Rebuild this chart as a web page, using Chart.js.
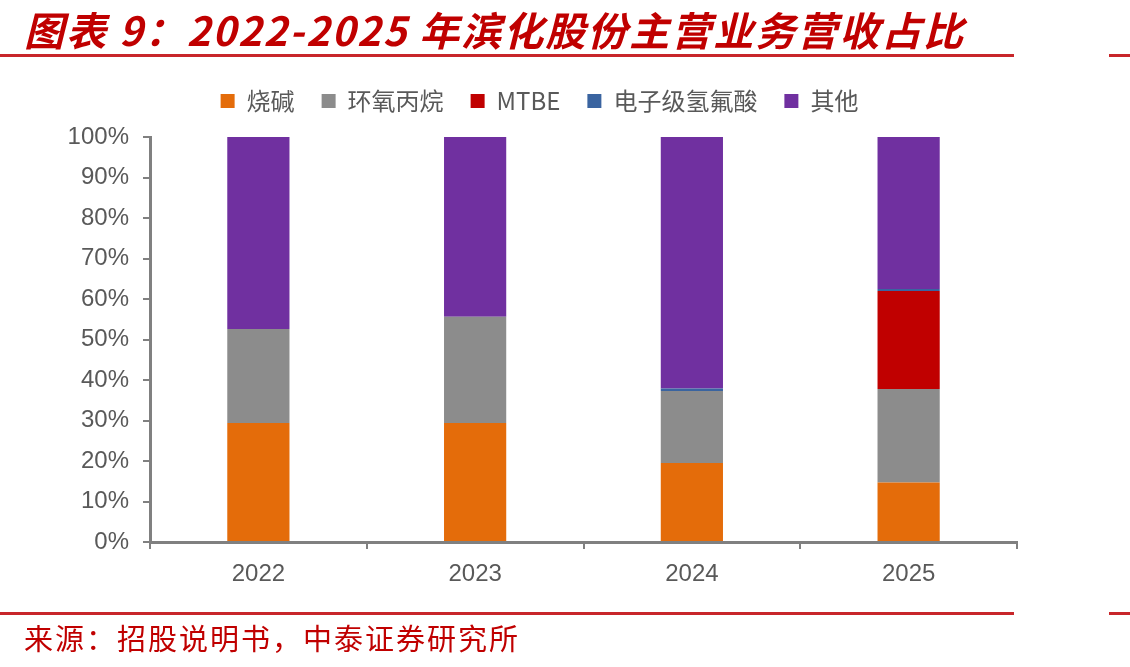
<!DOCTYPE html>
<html>
<head>
<meta charset="utf-8">
<script src="https://cdn.jsdelivr.net/npm/chart.js@4"></script>
<style>
  body { margin: 0; background: #fff; }
  #wrap { position: relative; width: 1130px; height: 667px; overflow: hidden; }
  #title { position: absolute; left: 24px; top: 0px; font-family: "Noto Sans CJK SC"; font-weight: bold; font-style: italic;
           font-size: 40px; color: #c00000; white-space: nowrap; letter-spacing: 2px; }
  .rule { position: absolute; height: 3px; background: #c8262a; }
  #source { position: absolute; left: 24px; top: 616px; font-family: "Noto Sans CJK SC"; font-size: 29px; color: #c00000; white-space: nowrap; letter-spacing: 2px; }
  #box { position: absolute; left: 0; top: 0; width: 1130px; height: 667px; }
</style>
</head>
<body>
<div id="wrap">
  <div id="box"><canvas id="mycanvas" width="1130" height="667"></canvas></div>
  <div id="title">图表 9：2022-2025 年滨化股份主营业务营收占比</div>
  <div class="rule" style="left:0;top:54px;width:1014px"></div>
  <div class="rule" style="left:1109px;top:54px;width:21px"></div>
  <div class="rule" style="left:0;top:612px;width:1014px"></div>
  <div class="rule" style="left:1109px;top:612px;width:21px"></div>
  <div id="source">来源：招股说明书，中泰证券研究所</div>
</div>
<script>
var years = ["2022", "2023", "2024", "2025"];
var shaojian = [29.4, 29.4, 19.5, 14.7];
var huanyang = [23.2, 26.2, 17.8, 23.1];
var mtbe = [0, 0, 0, 24.2];
var qingfusuan = [0, 0, 0.6, 0.5];
var qita = [47.4, 44.4, 62.1, 37.5];

var chartdata = {
  labels: years,
  datasets: [
    { label: "烧碱", backgroundColor: "#e46c0a", data: shaojian },
    { label: "环氧丙烷", backgroundColor: "#8c8c8c", data: huanyang },
    { label: "MTBE", backgroundColor: "#c00000", data: mtbe },
    { label: "电子级氢氟酸", backgroundColor: "#3a64a0", data: qingfusuan },
    { label: "其他", backgroundColor: "#7030a0", data: qita }
  ]
};
chartdata.datasets.forEach(function(d){
  d.barPercentage = 0.287;
  d.categoryPercentage = 1;
  d.borderWidth = 0;
});

// push the legend a bit right and leave more room under it
var legendNudge = {
  id: 'legendNudge',
  afterInit: function(chart){
    var fit = chart.legend.fit;
    chart.legend.fit = function(){ fit.call(this); this.height += 14; };
  },
  afterLayout: function(chart){
    chart.legend.left += 30;
    chart.legend.right += 30;
  }
};

var ctx = document.getElementById("mycanvas");
var chart = new Chart(ctx, {
  type: 'bar',
  data: chartdata,
  plugins: [legendNudge],
  options: {
    responsive: false,
    animation: { duration: 0 },
    layout: { padding: { top: 62, right: 113, bottom: 55, left: 2 } },
    plugins: {
      tooltip: { enabled: false },
      legend: {
        position: 'top',
        labels: {
          boxWidth: 14, boxHeight: 14, padding: 27,
          color: "#595959",
          font: { family: "Noto Sans CJK SC", size: 24 }
        }
      }
    },
    scales: {
      x: {
        stacked: true,
        grid: { offset: true, drawOnChartArea: false, tickLength: 7, color: "#808080", lineWidth: 2 },
        border: { color: "#808080", width: 3 },
        ticks: { color: "#595959", font: { family: "Liberation Sans", size: 24 }, padding: 11 },
        afterFit: function(s){ s.height = 70; }
      },
      y: {
        stacked: true,
        min: 0, max: 100,
        grid: { drawOnChartArea: false, tickLength: 7, color: "#808080", lineWidth: 2 },
        border: { color: "#808080", width: 3 },
        ticks: { stepSize: 10, color: "#595959", font: { family: "Liberation Sans", size: 24 }, padding: 14,
                 callback: function(v){ return v + "%"; } },
        afterFit: function(s){ s.width = 148; }
      }
    }
  }
});
</script>
</body>
</html>
